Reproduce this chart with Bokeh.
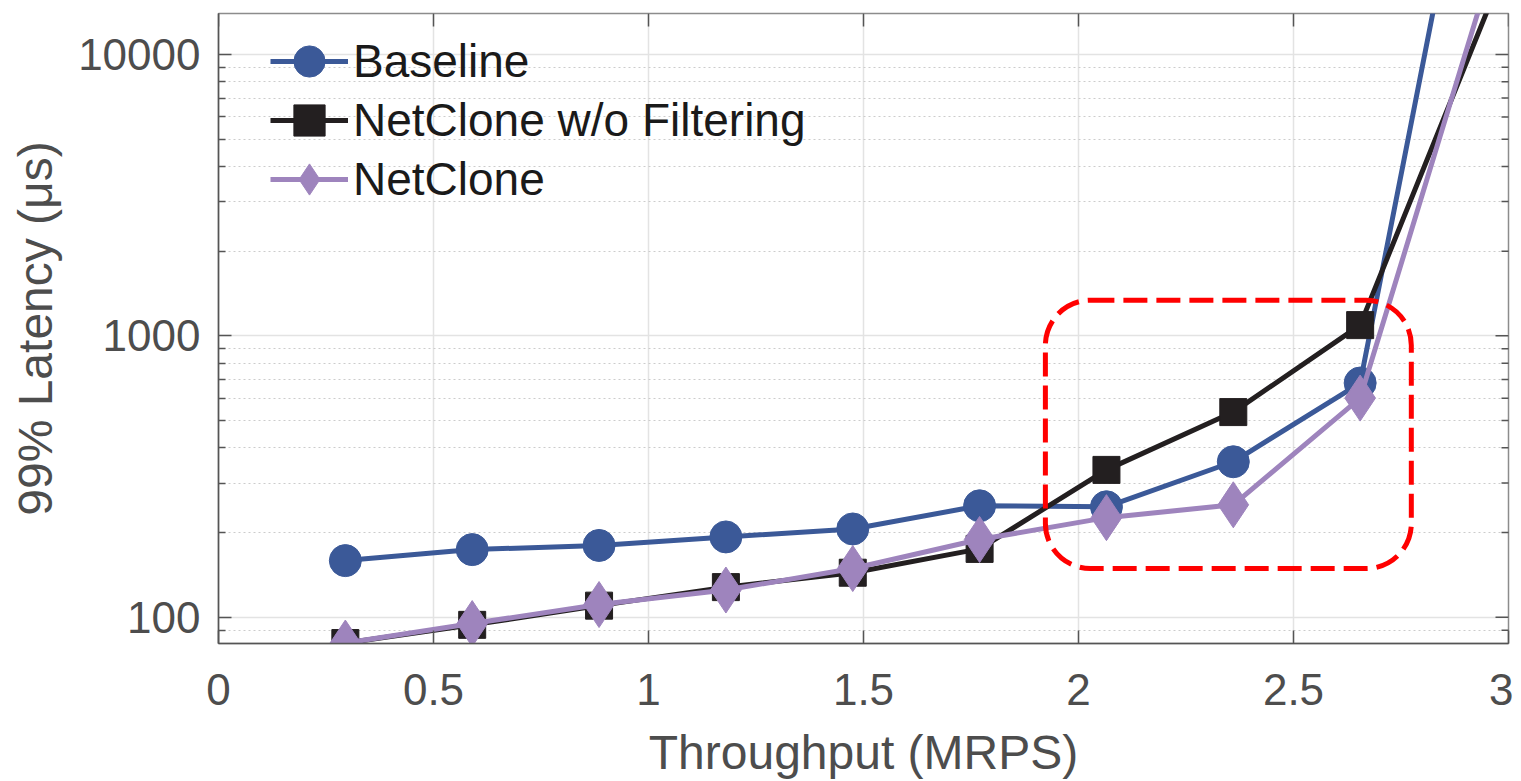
from bokeh.plotting import figure
from bokeh.models import (Range1d, FixedTicker, Legend, LegendItem, BoxAnnotation,
                          ColumnDataSource, CDSView, BooleanFilter)
from bokeh.embed import file_html
from bokeh.resources import INLINE

# ---- data ----
throughput = [0.295, 0.59, 0.885, 1.18, 1.475, 1.77, 2.065, 2.36, 2.655, 2.95]
baseline = [159, 174, 180, 193, 206, 249, 247, 357, 680, 134000]
netclone_nofilter = [81, 94, 110, 128, 144, 175, 334, 536, 1092, 14200]
netclone = [81, 95, 111, 125, 149, 189, 226, 251, 601, 18000]

series_names = ["Baseline", "NetClone w/o Filtering", "NetClone"]
x_ticks = [0, 0.5, 1, 1.5, 2, 2.5, 3]
x_tick_labels = ["0", "0.5", "1", "1.5", "2", "2.5", "3"]
y_ticks = [100, 1000, 10000]
y_tick_labels = ["100", "1000", "10000"]
y_minor = [m * 10 ** e for e in (1, 2, 3, 4) for m in range(2, 10)]

# highlighted region (data units)
hl_left, hl_right, hl_bottom, hl_top = 1.923, 2.774, 149, 1338

X_MIN, X_MAX, Y_MIN, Y_MAX = 0, 3, 80.7, 13980

FONT = "Liberation Sans"
TXT = "#4d4d4d"
AX = "#555555"
C_BASE = "#3b5998"
C_BLACK = "#231f20"
C_PURP = "#9e84bd"

p = figure(width=1513, height=781, x_range=Range1d(X_MIN, X_MAX),
           y_range=Range1d(Y_MIN, Y_MAX), y_axis_type="log",
           output_backend="svg", toolbar_location=None,
           min_border_left=218, min_border_right=5,
           min_border_top=13, min_border_bottom=137)
p.background_fill_color = "white"
p.outline_line_color = "#8c8c8c"
p.outline_line_width = 1.5

xt = FixedTicker(ticks=x_ticks, minor_ticks=[])
yt = FixedTicker(ticks=y_ticks, minor_ticks=y_minor)

# grids
p.xgrid.ticker = xt
p.xgrid.grid_line_color = "#e3e3e3"
p.xgrid.grid_line_width = 1.5
p.ygrid.ticker = yt
p.ygrid.grid_line_color = "#e3e3e3"
p.ygrid.grid_line_width = 1.5
p.ygrid.minor_grid_line_color = "#cccccc"
p.ygrid.minor_grid_line_dash = "2 3"
p.ygrid.minor_grid_line_width = 1

def style_axis(ax):
    ax.axis_line_color = AX
    ax.axis_line_width = 1.5
    ax.major_tick_in = 13
    ax.major_tick_out = 0
    ax.minor_tick_in = 7
    ax.minor_tick_out = 0
    ax.major_tick_line_color = AX
    ax.minor_tick_line_color = AX
    ax.major_tick_line_width = 1.5
    ax.minor_tick_line_width = 1.5

# bottom axis
xa = p.xaxis[0]
xa.ticker = xt
xa.major_label_overrides = {t: l for t, l in zip(x_ticks, x_tick_labels)}
style_axis(xa)
xa.minor_tick_line_color = None
xa.major_label_text_font = FONT
xa.major_label_text_font_size = "44px"
xa.major_label_text_color = TXT
xa.major_label_standoff = 30
xa.axis_label = "Throughput (MRPS)"
xa.axis_label_text_font = FONT
xa.axis_label_text_font_size = "48px"
xa.axis_label_text_font_style = "normal"
xa.axis_label_text_color = TXT
xa.axis_label_standoff = 18

# left axis
ya = p.yaxis[0]
ya.ticker = yt
ya.major_label_overrides = {t: l for t, l in zip(y_ticks, y_tick_labels)}
style_axis(ya)
ya.major_label_text_font = FONT
ya.major_label_text_font_size = "44px"
ya.major_label_text_color = TXT
ya.major_label_standoff = 18
ya.axis_label = "99% Latency (\u03bcs)"
ya.axis_label_text_font = FONT
ya.axis_label_text_font_size = "48px"
ya.axis_label_text_font_style = "normal"
ya.axis_label_text_color = TXT
ya.axis_label_standoff = 13

# mirrored inward ticks on top / right edges (dash markers clipped by frame)
p.scatter(x_ticks, [Y_MAX] * len(x_ticks), marker="dash", angle=1.5708,
          size=26, line_color=AX, line_width=1.5)
p.scatter([X_MAX] * len(y_ticks), y_ticks, marker="dash",
          size=26, line_color=AX, line_width=1.5)
y_minor_in = [v for v in y_minor if Y_MIN < v < Y_MAX]
p.scatter([X_MAX] * len(y_minor_in), y_minor_in, marker="dash",
          size=14, line_color=AX, line_width=1.5)

# highlight box
box = BoxAnnotation(left=hl_left, right=hl_right, bottom=hl_bottom, top=hl_top,
                    fill_color=None, fill_alpha=0, line_color="#ff0000",
                    line_alpha=1.0, line_width=5, line_dash="24 9",
                    border_radius=45)
p.add_layout(box)

# series (markers are only drawn for points inside the axes, like MATLAB)
def series(yvals, color, marker, size):
    src = ColumnDataSource(dict(x=throughput, y=yvals))
    mask = [Y_MIN <= v <= Y_MAX for v in yvals]
    ln = p.line("x", "y", source=src, line_color=color, line_width=5)
    sc = p.scatter("x", "y", source=src, view=CDSView(filter=BooleanFilter(mask)),
                   marker=marker, size=size, fill_color=color, line_color=color)
    return ln, sc

l1, s1 = series(baseline, C_BASE, "circle", 32)
l2, s2 = series(netclone_nofilter, C_BLACK, "square", 27)
l3, s3 = series(netclone, C_PURP, "diamond", 46)

# one legend per entry so rows can sit closer than the glyph box height
entries = [(series_names[0], [l1, s1]), (series_names[1], [l2, s2]),
           (series_names[2], [l3, s3])]
legend_y = [543, 484, 425]
for (name, rends), ly in zip(entries, legend_y):
    lg = Legend(items=[LegendItem(label=name, renderers=rends)],
                location=(52, ly), orientation="vertical")
    lg.background_fill_alpha = 0
    lg.border_line_color = None
    lg.padding = 0
    lg.margin = 0
    lg.spacing = 0
    lg.glyph_width = 78
    lg.glyph_height = 78
    lg.label_standoff = 5
    lg.label_text_font = FONT
    lg.label_text_font_size = "46px"
    lg.label_text_color = "#1a1a1a"
    lg.label_text_baseline = "middle"
    p.add_layout(lg)

open("out.html", "w").write(file_html(p, INLINE))
